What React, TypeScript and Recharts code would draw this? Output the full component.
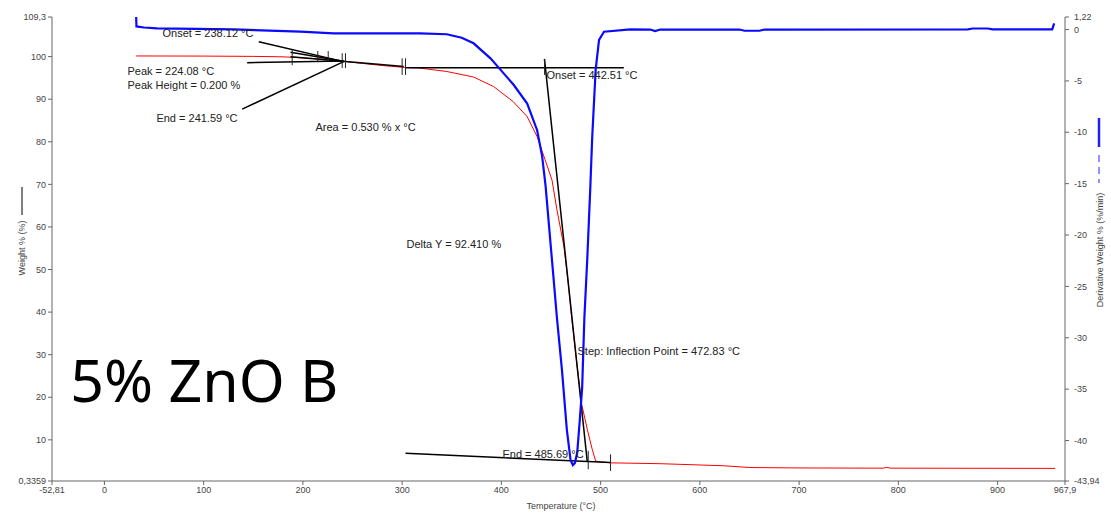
import { ComposedChart, Line, XAxis, YAxis, ReferenceLine, ReferenceDot } from 'recharts'

// weight % curve (red)
const weightTemp = [32, 100, 150, 180, 200, 220, 240, 260, 280, 300, 318, 345, 372, 392, 412, 426, 436, 444, 451, 456, 463, 467, 471, 476, 481, 486.5, 491.5, 495, 500, 510, 560, 600, 625, 650, 700, 785, 788, 792, 958]
const weightValue = [100.15, 100.12, 100.05, 99.95, 99.7, 99.4, 98.9, 98.4, 97.9, 97.5, 97.3, 96.5, 95.2, 93.0, 89.4, 85.9, 81.2, 75.8, 71.0, 64.0, 55.4, 47.6, 38.3, 28.0, 18.3, 12.5, 7.8, 5.0, 4.8, 4.6, 4.4, 4.1, 3.9, 3.5, 3.4, 3.35, 3.55, 3.35, 3.3]

// derivative weight % curve (blue)
const derivTemp = [32, 32.3, 40, 53, 130, 197.5, 231, 278, 318, 345, 360, 372, 389, 399, 412.5, 426, 436, 441, 444.5, 449.5, 453, 456, 461, 466, 469.7, 472, 474, 476.4, 479, 481.4, 483.6, 486.5, 489.5, 491.5, 495, 498.4, 503.4, 530, 550, 555, 560, 640, 645, 660, 665, 870, 875, 890, 895, 955, 957]
const derivValue = [1.22, 0.3, 0.2, 0.12, 0.02, -0.21, -0.37, -0.37, -0.37, -0.46, -0.8, -1.34, -2.8, -3.9, -5.4, -7.2, -9.8, -12.3, -15.2, -20.8, -24.7, -28.1, -33.1, -39.0, -41.9, -42.4, -42.2, -41.2, -38, -34.8, -28.1, -22.4, -15.6, -10.5, -3.9, -1.0, -0.21, 0.02, 0, -0.15, 0, 0, -0.12, -0.12, 0, 0.02, 0.1, 0.1, 0.02, 0.02, 0.6]

// axis ticks
const tempTicks = [-52.81, 0, 100, 200, 300, 400, 500, 600, 700, 800, 900, 967.9]
const weightTicks = [0.3359, 10, 20, 30, 40, 50, 60, 70, 80, 90, 100, 109.3]
const derivTicks = [-43.94, -40, -35, -30, -25, -20, -15, -10, -5, 0, 1.22]

// analysis lines: [t1, w1, t2, w2]
const analysisLines = [
  [155.5, 103.5, 241.1, 98.82],
  [143.8, 98.58, 241.1, 98.98],
  [138.8, 87.66, 241.1, 98.82],
  [187.5, 101.0, 241.1, 98.9],
  [187.5, 99.99, 301.6, 97.65],
  [303.4, 97.41, 523.4, 97.41],
  [443.4, 99.45, 486.5, 4.96],
  [303.4, 6.84, 510, 4.66],
]
// short markers: [t, wLow, wHigh]
const markers = [
  [189.2, 98.0, 101.5],
  [215, 98.9, 101.3],
  [225.5, 98.9, 101.3],
  [239.6, 97.3, 100.8],
  [242.9, 97.3, 100.8],
  [300, 95.7, 99.6],
  [303.4, 95.7, 99.6],
  [443.5, 95.7, 99.4],
  [487.5, 3.1, 7.4],
  [510, 2.7, 6.6],
]
const notes = [
  { text: 'Onset = 238.12 °C', t: 58.5, w: 105.55 },
  { text: 'Peak = 224.08 °C', t: 23.2, w: 96.64 },
  { text: 'Peak Height = 0.200 %', t: 23.2, w: 93.36 },
  { text: 'End = 241.59 °C', t: 52.4, w: 85.62 },
  { text: 'Area = 0.530 % x °C', t: 212.7, w: 83.5 },
  { text: 'Onset = 442.51 °C', t: 445.5, w: 95.7 },
  { text: 'Delta Y = 92.410 %', t: 304.4, w: 56.1 },
  { text: 'Step: Inflection Point = 472.83 °C', t: 476.7, w: 30.75 },
  { text: 'End = 485.69 °C', t: 401.1, w: 6.6 },
]

const weightData = weightTemp.map((t, i) => ({ t, w: weightValue[i] }))
const derivData = derivTemp.map((t, i) => ({ t, d: derivValue[i] }))

const font = '"Liberation Sans", Arial, sans-serif'
const fmt = (v: number) => String(v).replace('.', ',')
const tickStyle = { fontSize: 9, fill: '#444', fontFamily: font }

export default function App() {
  return (
    <div style={{ position: 'absolute', left: 0, top: 0, width: 1111, height: 514, background: '#fff' }}>
      <ComposedChart width={1111} height={514} margin={{ top: 17, right: 1, bottom: 3, left: 2 }}>
        <XAxis type="number" dataKey="t" domain={[-52.81, 967.9]} ticks={tempTicks} interval={0}
          tickFormatter={fmt} tick={tickStyle} tickSize={4} tickMargin={2} stroke="#666" height={30} allowDataOverflow />
        <YAxis yAxisId="w" orientation="left" domain={[0.3359, 109.3]} ticks={weightTicks} interval={0}
          tickFormatter={fmt} tick={tickStyle} tickSize={4} tickMargin={2} stroke="#666" width={50} allowDataOverflow />
        <YAxis yAxisId="d" orientation="right" domain={[-43.94, 1.22]} ticks={derivTicks} interval={0}
          tickFormatter={fmt} tick={tickStyle} tickSize={4} tickMargin={5} stroke="#666" width={45} allowDataOverflow />
        <Line yAxisId="w" data={weightData} dataKey="w" type="linear" stroke="#ff0000" strokeWidth={1}
          dot={false} isAnimationActive={false} />
        {analysisLines.map(([t1, w1, t2, w2], i) => (
          <ReferenceLine key={'l' + i} yAxisId="w" segment={[{ x: t1, y: w1 }, { x: t2, y: w2 }]}
            stroke="#000" strokeWidth={1.5} />
        ))}
        {markers.map(([t, lo, hi], i) => (
          <ReferenceLine key={'m' + i} yAxisId="w" segment={[{ x: t, y: lo }, { x: t, y: hi }]}
            stroke="#222" strokeWidth={1} />
        ))}
        {notes.map((n, i) => (
          <ReferenceDot key={'n' + i} yAxisId="w" x={n.t} y={n.w} r={0}
            shape={(p: any) => (
              <text x={p.cx} y={p.cy} dominantBaseline="central" fontSize={11} fontFamily={font} fill="#222">{n.text}</text>
            )} />
        ))}
        <ReferenceDot yAxisId="w" x={-34.3} y={19.0} r={0}
          shape={(p: any) => (
            <text x={p.cx} y={p.cy} fontSize={59} fontFamily='"Noto Sans", sans-serif' fill="#000">5% ZnO B</text>
          )} />
        <Line yAxisId="d" data={derivData} dataKey="d" type="linear" stroke="#0a0aff" strokeWidth={2.2}
          dot={false} isAnimationActive={false} />
      </ComposedChart>
      <svg width={1111} height={514} style={{ position: 'absolute', left: 0, top: 0, pointerEvents: 'none' }}>
        <line x1={22} y1={187} x2={22} y2={215} stroke="#000" strokeWidth={1} />
        <text transform="translate(25,248) rotate(-90)" textAnchor="middle" fontSize={9} fontFamily={font} fill="#444">Weight % (%)</text>
        <line x1={1099} y1={118} x2={1099} y2={147} stroke="#2020ff" strokeWidth={2.5} />
        <line x1={1099} y1={155} x2={1099} y2={183} stroke="#7070ff" strokeWidth={1.5} strokeDasharray="7 5" />
        <text transform="translate(1103,250) rotate(-90)" textAnchor="middle" fontSize={9} fontFamily={font} fill="#444">Derivative Weight % (%/min)</text>
        <text x={561} y={509} textAnchor="middle" fontSize={9} fontFamily={font} fill="#444">Temperature (°C)</text>
      </svg>
    </div>
  )
}
